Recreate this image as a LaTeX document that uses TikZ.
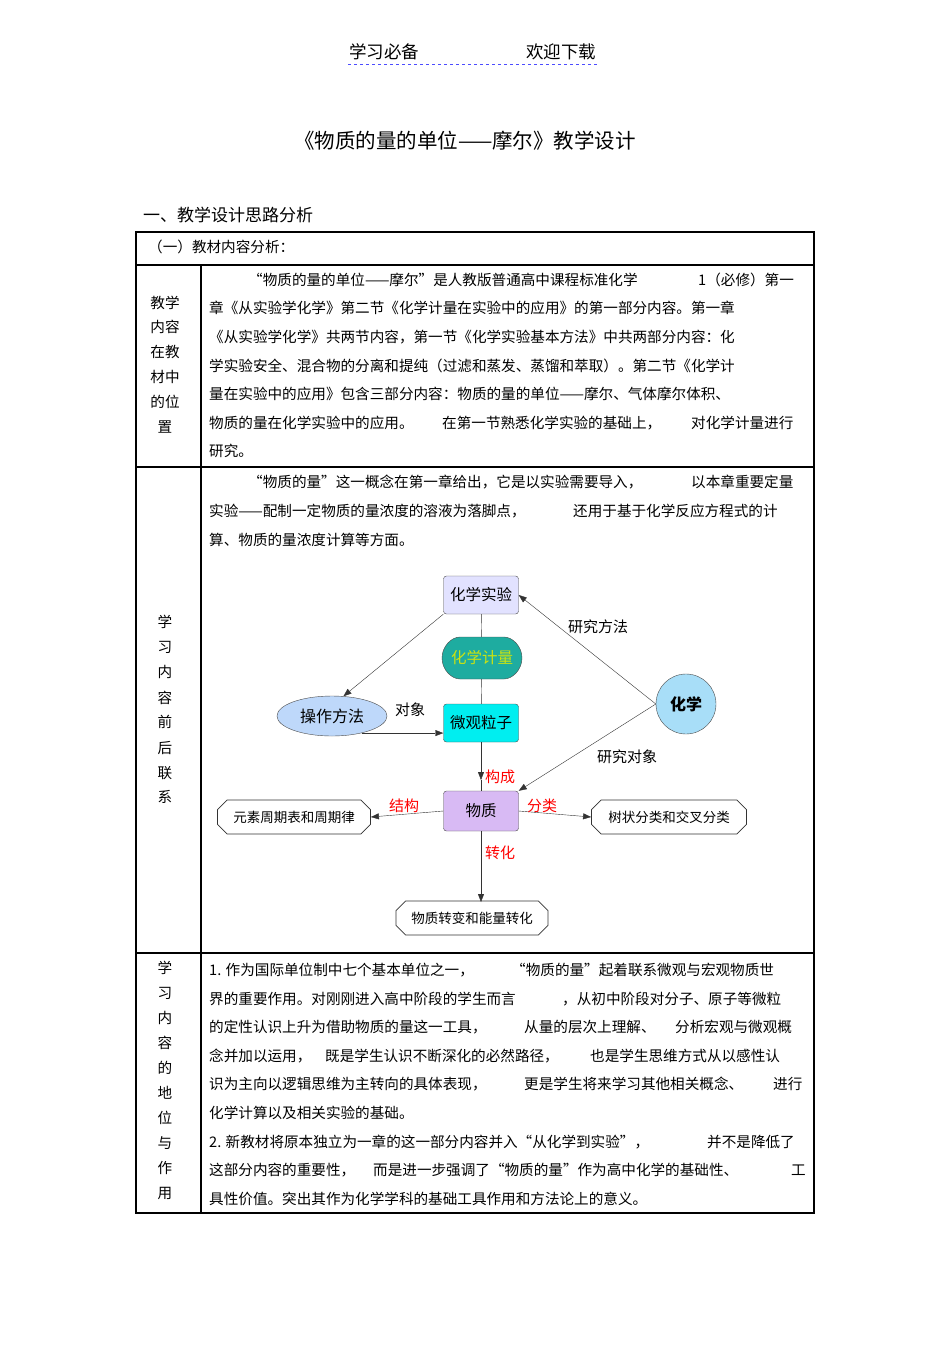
\documentclass[tikz,border=0pt]{standalone}
\usepackage{fontspec}
\setmainfont{Noto Sans CJK SC}
\usetikzlibrary{shapes.misc,shapes.geometric,arrows.meta}
\definecolor{tealc}{RGB}{30,172,160}
\definecolor{cyanc}{RGB}{0,238,240}
\definecolor{lavc}{RGB}{226,226,255}
\definecolor{purc}{RGB}{216,186,244}
\definecolor{ellc}{RGB}{190,216,250}
\definecolor{cirq}{RGB}{168,222,248}
\begin{document}
\begin{tikzpicture}[x=1pt,y=-1pt,
 txt/.style={anchor=west,inner sep=0,font=\fontsize{14.6}{15}\selectfont},
 vt/.style={inner sep=0,font=\fontsize{14.6}{15}\selectfont},
 box/.style={draw=black!70,rounded corners=3pt,minimum width=75pt,minimum height=38pt,font=\fontsize{15.5}{16}\selectfont,inner sep=1pt},
 oct/.style={draw=black!80,chamfered rectangle,chamfered rectangle xsep=6pt,minimum height=34pt,font=\fontsize{13.5}{14}\selectfont,inner sep=3pt,thick},
 arr/.style={draw=black!80,-{Triangle[length=8pt,width=6pt]}},
 lab/.style={font=\fontsize{15}{15}\selectfont,inner sep=1pt},
 rlab/.style={font=\fontsize{15}{15}\selectfont,inner sep=1pt,text=red}]
\useasboundingbox (0,0) rectangle (950,1345);
\fill[white] (0,0) rectangle (950,1345);
% header
\node[vt,font=\fontsize{17.5}{18}\selectfont] (h1) at (384,52) {学习必备};
\node[vt,font=\fontsize{17.5}{18}\selectfont] (h2) at (561,52) {欢迎下载};
\draw[blue!70,dashed] (348,64) -- (598,64);
\node[vt,font=\fontsize{20.5}{21}\selectfont] (title) at (465,141) {《物质的量的单位——摩尔》教学设计};
\node[txt,font=\fontsize{17}{17}\selectfont] (sec) at (143,215) {一、教学设计思路分析};
% table
\draw[line width=1.5pt] (136,232) rectangle (814,1213);
\draw[line width=1.2pt] (136,265) -- (814,265);
\draw[line width=1.2pt] (136,467) -- (814,467);
\draw[line width=1.2pt] (136,953) -- (814,953);
\draw[line width=1.2pt] (201,265) -- (201,1213);
\node[txt] (r0) at (148,247) {（一）教材内容分析：};
% col 1
\foreach \t/\y in {教学/303,内容/327,在教/352,材中/377,的位/402,置/427}{\node[vt] at (165,\y) {\t};}
\foreach \t/\y in {学/622,习/647,内/672,容/698,前/722,后/748,联/773,系/797}{\node[vt] at (165,\y) {\t};}
\foreach \t/\y in {学/968,习/993,内/1018,容/1043,的/1068,地/1093,位/1118,与/1143,作/1168,用/1193}{\node[vt] at (165,\y) {\t};}
% row 1 text
\node[txt] at (248,280) {“物质的量的单位——摩尔”是人教版普通高中课程标准化学};
\node[txt] at (698,280) {1（必修）第一};
\node[txt] at (209,308) {章《从实验学化学》第二节《化学计量在实验中的应用》的第一部分内容。第一章};
\node[txt] at (209,337) {《从实验学化学》共两节内容，第一节《化学实验基本方法》中共两部分内容：化};
\node[txt] at (209,366) {学实验安全、混合物的分离和提纯（过滤和蒸发、蒸馏和萃取）。第二节《化学计};
\node[txt] at (209,394) {量在实验中的应用》包含三部分内容：物质的量的单位——摩尔、气体摩尔体积、};
\node[txt] at (209,423) {物质的量在化学实验中的应用。};
\node[txt] at (442,423) {在第一节熟悉化学实验的基础上，};
\node[txt] at (691,423) {对化学计量进行};
\node[txt] at (209,451) {研究。};
% row 2 text
\node[txt] at (248,482) {“物质的量”这一概念在第一章给出，它是以实验需要导入，};
\node[txt] at (691,482) {以本章重要定量};
\node[txt] at (209,511) {实验——配制一定物质的量浓度的溶液为落脚点，};
\node[txt] at (573,511) {还用于基于化学反应方程式的计};
\node[txt] at (209,540) {算、物质的量浓度计算等方面。};
% row 3 text
\node[txt] at (209,970) {1. 作为国际单位制中七个基本单位之一，};
\node[txt] at (511,970) {“物质的量”起着联系微观与宏观物质世};
\node[txt] at (209,999) {界的重要作用。对刚刚进入高中阶段的学生而言};
\node[txt] at (562,999) {，从初中阶段对分子、原子等微粒};
\node[txt] at (209,1027) {的定性认识上升为借助物质的量这一工具，};
\node[txt] at (524,1027) {从量的层次上理解、};
\node[txt] at (675,1027) {分析宏观与微观概};
\node[txt] at (209,1056) {念并加以运用，};
\node[txt] at (325,1056) {既是学生认识不断深化的必然路径，};
\node[txt] at (590,1056) {也是学生思维方式从以感性认};
\node[txt] at (209,1084) {识为主向以逻辑思维为主转向的具体表现，};
\node[txt] at (524,1084) {更是学生将来学习其他相关概念、};
\node[txt] at (773,1084) {进行};
\node[txt] at (209,1113) {化学计算以及相关实验的基础。};
\node[txt] at (209,1142) {2. 新教材将原本独立为一章的这一部分内容并入“从化学到实验”，};
\node[txt] at (707,1142) {并不是降低了};
\node[txt] at (209,1170) {这部分内容的重要性，};
\node[txt] at (373,1170) {而是进一步强调了“物质的量”作为高中化学的基础性、};
\node[txt] at (791,1170) {工};
\node[txt] at (209,1199) {具性价值。突出其作为化学学科的基础工具作用和方法论上的意义。};
% diagram
\node[box,fill=lavc] (syan) at (481,595) {化学实验};
\node[box,fill=tealc,rounded rectangle,minimum width=82pt,minimum height=42pt,text=yellow!80!green] (jl) at (482,658) {化学计量};
\node[box,fill=cyanc] (wg) at (481,723) {微观粒子};
\node[draw=black!70,ellipse,fill=ellc,minimum width=110pt,minimum height=40pt,font=\fontsize{16}{16}\selectfont,inner sep=1pt] (cz) at (332,716) {操作方法};
\node[draw=black!70,circle,fill=cirq,minimum size=60pt,font=\bfseries\fontsize{16}{16}\selectfont,inner sep=1pt] (hx) at (686,704) {化学};
\node[box,fill=purc,minimum height=40pt] (wz) at (481,811) {物质};
\node[oct,minimum width=153pt] (ys) at (294,817) {元素周期表和周期律};
\node[oct,minimum width=155pt] (sz) at (669,817) {树状分类和交叉分类};
\node[oct,minimum width=152pt] (zb) at (472,918) {物质转变和能量转化};
\coordinate (czr) at (cz.-30);
\coordinate (czt) at (cz.60);
\coordinate (wgm) at (481,780);
\coordinate (zbt) at (481,902);
\draw[draw=black!80] (syan) -- (jl) -- (wg);
\draw[arr] (syan.south west) -- (czt);
\draw[arr] (czr) -- (wg.west |- czr);
\node[lab] (dx) at (410,710) {对象};
\draw[arr] (wg.south) -- (wgm);
\draw[draw=black!80] (wgm) -- (wz.north);
\node[rlab] (gc) at (500,777) {构成};
\draw[arr] (hx.west) -- (syan.east);
\draw[arr] (hx.west) -- (wz.north east);
\node[lab] (yf) at (598,627) {研究方法};
\node[lab] (yd) at (627,757) {研究对象};
\draw[arr] (wz.west) -- (ys.east);
\node[rlab] (jg) at (404,806) {结构};
\draw[arr] (wz.east) -- (sz.west);
\node[rlab] (fl) at (542,806) {分类};
\draw[arr] (wz.south) -- (zbt);
\node[rlab] (zh) at (500,853) {转化};
\end{tikzpicture}
\end{document}
